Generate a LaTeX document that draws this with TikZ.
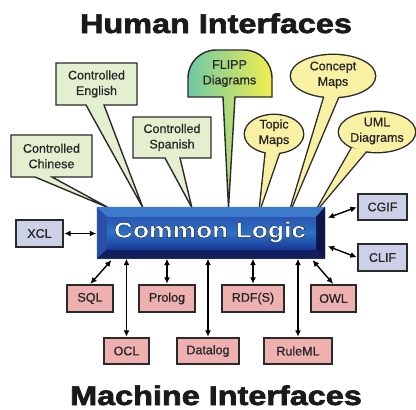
\documentclass[tikz,border=0pt]{standalone}
\usepackage{fontspec}
\setmainfont{Liberation Sans}
\newfontfamily\lblfont{Liberation Sans}[FakeBold=0.7]
\newfontfamily\heavyfont{Liberation Sans Bold}[FakeBold=2.2]
\newfontfamily\clfont{Liberation Sans Bold}[FakeBold=1.7]
\usetikzlibrary{arrows.meta,calc}
\definecolor{boxline}{HTML}{2A2A2A}
\definecolor{cgreen}{HTML}{E4EFCF}
\definecolor{clav}{HTML}{CDD1E8}
\definecolor{cpink}{HTML}{EFB0B0}
\definecolor{cyellow}{HTML}{F8F1A4}
\definecolor{flippL}{HTML}{6FC8A4}
\definecolor{flippR}{HTML}{F2EE50}
\definecolor{titlec}{HTML}{1A1A1A}
\definecolor{blueA}{HTML}{2F62BE}
\definecolor{blueB}{HTML}{1B2F86}
\definecolor{blueC}{HTML}{2A56B2}
\definecolor{blueD}{HTML}{1A3A96}
\definecolor{bevT}{HTML}{3C7ACB}
\definecolor{bevR}{HTML}{0E1648}
\definecolor{bevB}{HTML}{121E5E}
\definecolor{bevL}{HTML}{2A4FA8}
\begin{document}
\begin{tikzpicture}[x=1pt,y=-1pt,
  lbl/.style={font=\lblfont\fontsize{12.5}{15.5}\selectfont, align=center, inner sep=0pt, text=black!85},
  ifbox/.style={draw=boxline, line width=1.4pt, minimum height=27pt, inner sep=0pt,
     font=\lblfont\fontsize{12.5}{15}\selectfont, text=black!85},
  bxlav/.style={ifbox, fill=clav},
  bxpink/.style={ifbox, fill=cpink},
  callout/.style={draw=boxline, line width=1.4pt, fill=cgreen, line join=miter},
  balloonline/.style={draw=boxline, line width=2.8pt},
  arr/.style={{Latex[length=6.5pt,width=6pt]}-{Latex[length=6.5pt,width=6pt]}, line width=1.4pt,
     shorten <=0.5pt, shorten >=0.5pt},
  title/.style={font=\heavyfont\fontsize{27}{27}\selectfont, text=titlec, inner sep=0pt, anchor=base},
  cltxt/.style={font=\clfont\fontsize{22}{22}\selectfont, inner sep=0pt}
]
\useasboundingbox (0,0) rectangle (416,410);

% titles
\node[title] (human) at (216,33) {\scalebox{1.2}[1]{Human Interfaces}};
\node[title] (machine) at (216,405) {\scalebox{1.2}[1]{Machine Interfaces}};

% green callouts
\path[callout] (56,63) -- (137,63) -- (137,105) -- (104,105) -- (143,208) -- (86,105) -- (56,105) -- cycle;
\path[callout] (133,117) -- (211,117) -- (211,158) -- (180,158) -- (192,208) -- (165,158) -- (133,158) -- cycle;
\path[callout] (11,135) -- (92,135) -- (92,177) -- (52,177) -- (109,208) -- (35,177) -- (11,177) -- cycle;
\node[lbl] (ceng) at (96.5,84) {Controlled\\English};
\node[lbl] (cspa) at (172,137.5) {Controlled\\Spanish};
\node[lbl] (cchi) at (51.5,156) {Controlled\\Chinese};

% FLIPP tombstone
\draw[left color=flippL, right color=flippR, draw=boxline, line width=1.4pt]
  (223,97) -- (188,97) [rounded corners=28pt] -- (188,50) -- (272,50) [sharp corners] -- (272,97) -- (235,97) -- (228.5,208) -- cycle;
\node[lbl] (flipp) at (229.5,73.5) {FLIPP\\Diagrams};

% yellow balloons
\path[balloonline] (325,95) -- (291,208) -- (339,95);
\path[balloonline] (333,76) ellipse [x radius=42pt, y radius=21pt];
\fill[cyellow] (325,95) -- (291,208) -- (339,95) -- cycle;
\fill[cyellow] (333,76) ellipse [x radius=42pt, y radius=21pt];
\node[lbl] (concept) at (333,75) {Concept\\Maps};

\path[balloonline] (266,151) -- (260,208) -- (280,150);
\path[balloonline] (274,134) ellipse [x radius=29pt, y radius=19pt];
\fill[cyellow] (266,151) -- (260,208) -- (280,150) -- cycle;
\fill[cyellow] (274,134) ellipse [x radius=29pt, y radius=19pt];
\node[lbl] (topic) at (274,133) {Topic\\Maps};

\path[balloonline] (352,148) -- (318,208) -- (367,150);
\path[balloonline] (377,132) ellipse [x radius=38pt, y radius=20pt];
\fill[cyellow] (352,148) -- (318,208) -- (367,150) -- cycle;
\fill[cyellow] (377,132) ellipse [x radius=38pt, y radius=20pt];
\node[lbl] (uml) at (377,131) {UML\\Diagrams};

% Common Logic block
\node[minimum width=228pt, minimum height=51pt, inner sep=0pt, top color=blueA, bottom color=blueB] (cl) at (211,232.5) {};
\fill[bevT] (cl.north west) -- (cl.north east) -- (316,217) -- (107,217) -- cycle;
\fill[bevR] (cl.north east) -- (cl.south east) -- (316,249) -- (316,217) -- cycle;
\fill[bevB] (cl.south west) -- (cl.south east) -- (316,249) -- (107,249) -- cycle;
\fill[bevL] (cl.north west) -- (cl.south west) -- (107,249) -- (107,217) -- cycle;
\shade[top color=blueC, bottom color=blueD, middle color=blueA!90!cyan] (107,217) rectangle (316,249);
\node[cltxt, text=white] (cltext) at (210,232) {\special{pdf:literal direct 0.06 0.08 0.25 RG}\scalebox{1.2}[1]{Common Logic}};

% side boxes
\node[bxlav, minimum width=47pt] (xcl) at (39.5,233.5) {XCL};
\node[bxlav, minimum width=49pt, minimum height=26pt] (cgif) at (382.5,207) {CGIF};
\node[bxlav, minimum width=49pt] (clif) at (382.5,257.5) {CLIF};

% bottom boxes
\node[bxpink, minimum width=46pt] (sql) at (90,298.5) {SQL};
\node[bxpink, minimum width=56pt] (prolog) at (167,298.5) {Prolog};
\node[bxpink, minimum width=62pt] (rdfs) at (253,298.5) {RDF(S)};
\node[bxpink, minimum width=45pt] (owl) at (333.5,298.5) {OWL};
\node[bxpink, minimum width=45pt, minimum height=26pt] (ocl) at (126.5,351) {OCL};
\node[bxpink, minimum width=62pt, minimum height=26pt] (datalog) at (208,351) {Datalog};
\node[bxpink, minimum width=68pt, minimum height=26pt] (ruleml) at (298,351) {RuleML};

% connectors
\draw[arr] (xcl.east) -- (cl.west |- xcl.east);
\draw[arr] (cgif.west) -- ($(cl.east)+(2,-14.5)$);
\draw[arr] (clif.west) -- ($(cl.east)+(2,13.5)$);
\draw[arr] (sql.north) -- ($(cl.south west)+(15,1.5)$);
\draw[arr] (owl.north) -- ($(cl.south east)+(-13,1.5)$);
\draw[arr] (prolog.north) -- (prolog.north |- cl.south);
\draw[arr] (rdfs.north) -- (rdfs.north |- cl.south);
\draw[arr] (ocl.north) -- (ocl.north |- cl.south);
\draw[arr] (datalog.north) -- (datalog.north |- cl.south);
\draw[arr] (ruleml.north) -- (ruleml.north |- cl.south);
\end{tikzpicture}
\end{document}
